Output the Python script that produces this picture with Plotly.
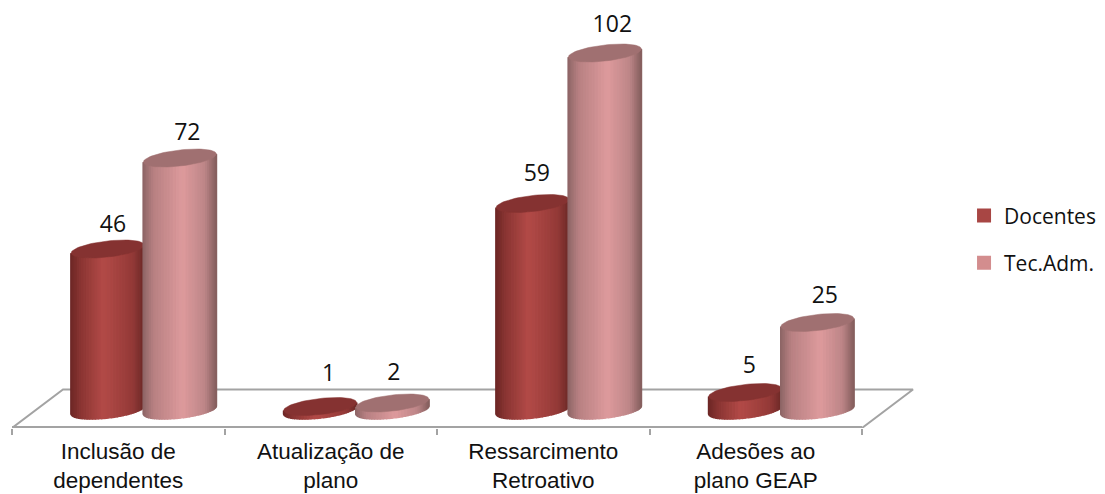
import numpy as np
import plotly.graph_objects as go

categorias = ["Inclusão de<br>dependentes", "Atualização de<br>plano", "Ressarcimento<br>Retroativo", "Adesões ao<br>plano GEAP"]
docentes = [46, 1, 59, 5]
tec_adm = [72, 2, 102, 25]

# cylinder shape, in axis units
HALF_W = 0.172
RY = 2.3      # half height of the ellipse
TILT = 1.15   # right side of the ellipse sits higher
N_STRIPS = 36

# shading stops across the cylinder, left to right
shade_doc = [(0, "#6c2625"), (0.15, "#8c3634"), (0.45, "#b34b48"), (0.85, "#943a38"), (1, "#6e2a28")]
shade_tec = [(0, "#8c6465"), (0.15, "#b88183"), (0.55, "#de9b9d"), (0.85, "#bd8688"), (1, "#87605f")]

# label nudges, the labels are not placed evenly in the original
nudge_doc_x = [0.025, 0.04, 0.02, 0.02]
nudge_doc_y = [6.6, 8.9, 8.0, 7.2]
nudge_tec_x = [0.035, 0.007, 0.035, 0.035]
nudge_tec_y = [6.9, 8.3, 7.7, 7.2]


def hex2rgb(c):
    return np.array([int(c[i:i + 2], 16) for i in (1, 3, 5)], dtype=float)


def shade_at(stops, u):
    pos = [s[0] for s in stops]
    rgb = np.array([hex2rgb(s[1]) for s in stops])
    vals = [np.interp(u, pos, rgb[:, k]) for k in range(3)]
    return "rgb(%d,%d,%d)" % tuple(vals)


def add_cylinders(fig, values, offset, stops, top_color):
    thetas = np.linspace(np.pi, 0, N_STRIPS + 1)
    # body: vertical strips, one trace per shade
    for i in range(N_STRIPS):
        xs, ys = [], []
        arc = np.linspace(thetas[i], thetas[i + 1], 4)
        for g, v in enumerate(values):
            cx = g + offset
            px = cx + HALF_W * np.cos(arc)
            low = -RY * np.sin(arc) + TILT * np.cos(arc)
            # closed polygon so the stroke hides the seam on both sides
            xs += list(px) + list(px[::-1]) + [px[0], None]
            ys += list(low) + list((v + low)[::-1]) + [low[0], None]
        col = shade_at(stops, (np.cos(thetas[i]) + np.cos(thetas[i + 1])) / 4 + 0.5)
        fig.add_trace(go.Scatter(x=xs, y=ys, mode="lines", fill="toself", fillcolor=col,
                                 line=dict(color=col, width=1.5),
                                 hoverinfo="skip", showlegend=False))
    # top ellipses
    t = np.linspace(0, 2 * np.pi, 80)
    xs, ys = [], []
    for g, v in enumerate(values):
        xs += list(g + offset + HALF_W * np.cos(t)) + [None]
        ys += list(v + RY * np.sin(t) + TILT * np.cos(t)) + [None]
    fig.add_trace(go.Scatter(x=xs, y=ys, mode="lines", fill="toself", fillcolor=top_color,
                             line=dict(color=top_color, width=0.5),
                             hoverinfo="skip", showlegend=False))


fig = go.Figure()

# floor of the 3D chart
y_front = -5.14
y_back = 5.86
skew = 0.24
floor_col = "#a3a3a3"
fig.add_trace(go.Scatter(x=[0, skew, 4 + skew, 4], y=[y_front, y_back, y_back, y_front], mode="lines",
                         line=dict(color=floor_col, width=2), hoverinfo="skip", showlegend=False))
# front edge sits on the plot border, half of it gets clipped
fig.add_trace(go.Scatter(x=[0, 4], y=[y_front, y_front], mode="lines",
                         line=dict(color=floor_col, width=4), hoverinfo="skip", showlegend=False))

add_cylinders(fig, docentes, 0.45, shade_doc, "#853231")
add_cylinders(fig, tec_adm, 0.79, shade_tec, "#a07071")

# data labels
for values, offset, dx, dy in [(docentes, 0.45, nudge_doc_x, nudge_doc_y), (tec_adm, 0.79, nudge_tec_x, nudge_tec_y)]:
    fig.add_trace(go.Scatter(x=[g + offset + dx[g] for g in range(4)], y=[values[g] + dy[g] for g in range(4)],
                             mode="text", text=[str(v) for v in values], cliponaxis=False,
                             textfont=dict(family="Open Sans", size=23, color="#111111"),
                             hoverinfo="skip", showlegend=False))

# legend entries
for name, col in [("Docentes", "#a84644"), ("Tec.Adm.", "#d38d8e")]:
    fig.add_trace(go.Scatter(x=[None], y=[None], mode="markers", name=name, legendgroup=name,
                             marker=dict(symbol="square", size=14, color=col)))

# the page body has an 8px margin, so the figure is 8px smaller than the window
fig.update_layout(
    width=1097, height=486,
    margin=dict(l=4, r=185, t=0, b=66, autoexpand=False),
    paper_bgcolor="white", plot_bgcolor="white",
    showlegend=True,
    legend=dict(x=0.8715, xref="container", xanchor="left", y=0.524, yref="container", yanchor="middle",
                font=dict(family="Open Sans", size=21, color="#111111"),
                tracegroupgap=17, bgcolor="rgba(0,0,0,0)"),
    xaxis=dict(range=[0, 4.2729], showgrid=False, zeroline=False, showline=False,
               tickvals=[0.5, 1.5, 2.5, 3.5], ticktext=categorias, ticks="", ticklabelstandoff=7,
               tickfont=dict(family="Liberation Sans", size=22.5, color="#111111"),
               minor=dict(tickvals=[0, 1, 2, 3, 4], ticks="outside", ticklen=6, tickwidth=2, tickcolor=floor_col)),
    yaxis=dict(range=[y_front, 114.86], visible=False),
)

fig.write_html("out.html")
